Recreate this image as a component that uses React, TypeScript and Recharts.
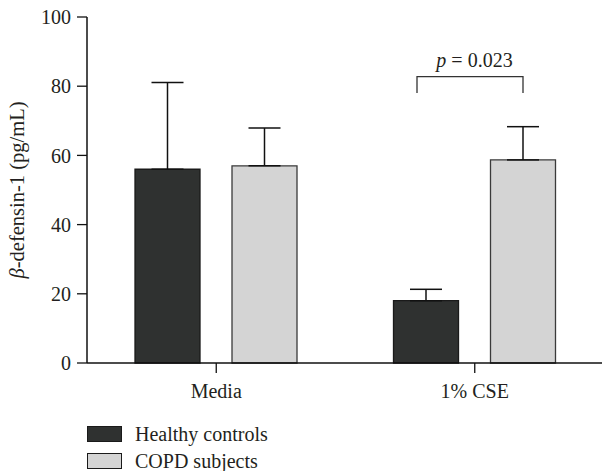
import React from 'react';
import { Bar, BarChart, ErrorBar, LabelList, XAxis, YAxis } from 'recharts';

const categories = ['Media', '1% CSE'];
const healthy = [56.0, 18.0];
const copd = [57.0, 58.7];
const healthyErr = [25.1, 3.3];
const copdErr = [10.9, 9.6];
const yTicks = [0, 20, 40, 60, 80, 100];
const seriesNames = ['Healthy controls', 'COPD subjects'];
const pValue = '0.023';
// bracket over the 1% CSE pair, in y units
const bracketTop = 82.75;
const bracketLeg = 78;

const data = categories.map((name, i) => ({
  name,
  healthy: healthy[i],
  copd: copd[i],
  healthyErr: [0, healthyErr[i]],
  copdErr: [0, copdErr[i]],
}));

const FONT = '"Liberation Serif", "Times New Roman", serif';
const INK = '#231f20';
const DARK = '#2f3130';
const LIGHT = '#d4d4d4';

function YLabel(props: any) {
  const vb = props.viewBox || {};
  const cx = (vb.x ?? 0) + 24;
  const cy = (vb.y ?? 0) + (vb.height ?? 0) / 2;
  return (
    <text
      x={cx}
      y={cy}
      transform={`rotate(-90, ${cx}, ${cy})`}
      textAnchor="middle"
      fontFamily={FONT}
      fontSize={20.5}
      fill={INK}
    >
      <tspan fontStyle="italic">β</tspan>-defensin-1 (pg/mL)
    </text>
  );
}

function PBracket(props: any) {
  if (props.index !== 1) return null;
  const vb = props.viewBox && props.viewBox.width != null ? props.viewBox : props;
  const { x, y, width, height } = vb;
  const value = copd[1];
  const base = y + height;
  const ppu = height / value;
  const top = base - bracketTop * ppu;
  const leg = base - bracketLeg * ppu;
  const right = x + width / 2;
  const left = right - 106;
  const mid = x - 16;
  return (
    <g>
      <path
        d={`M${left},${leg} L${left},${top} L${right},${top} L${right},${leg}`}
        fill="none"
        stroke="#333"
        strokeWidth={1.3}
      />
      <text x={mid} y={top - 10} textAnchor="middle" fontFamily={FONT} fontSize={20} fill={INK}>
        <tspan fontStyle="italic">p</tspan> = {pValue}
      </text>
    </g>
  );
}

export default function App() {
  return (
    <div
      style={{
        position: 'absolute',
        left: 0,
        top: 0,
        width: 602,
        height: 471,
        overflow: 'hidden',
        background: '#fff',
      }}
    >
      <BarChart
        width={620}
        height={471}
        data={data}
        margin={{ top: 17, right: 16, left: 0, bottom: 68 }}
        barGap={32}
        barSize={65}
      >
        <XAxis
          dataKey="name"
          height={40}
          tickSize={10}
          tickMargin={11}
          axisLine={{ stroke: '#111', strokeWidth: 1.5 }}
          tickLine={{ stroke: '#111', strokeWidth: 1.3 }}
          tick={{ fontFamily: FONT, fontSize: 20, fill: INK }}
        />
        <YAxis
          width={87}
          domain={[0, 100]}
          ticks={yTicks}
          tickSize={10}
          tickMargin={6}
          axisLine={{ stroke: '#111', strokeWidth: 1.5 }}
          tickLine={{ stroke: '#111', strokeWidth: 1.3 }}
          tick={{ fontFamily: FONT, fontSize: 20, fill: INK }}
          label={{ content: YLabel }}
        />
        <Bar dataKey="healthy" fill={DARK} stroke="#1a1a1a" strokeWidth={1.3} isAnimationActive={false}>
          <ErrorBar dataKey="healthyErr" width={16} stroke="#111" strokeWidth={1.5} direction="y" />
        </Bar>
        <Bar dataKey="copd" fill={LIGHT} stroke="#3a3a3a" strokeWidth={1.3} isAnimationActive={false}>
          <ErrorBar dataKey="copdErr" width={16} stroke="#111" strokeWidth={1.5} direction="y" />
          <LabelList dataKey="copd" content={PBracket} />
        </Bar>
      </BarChart>
      <div
        style={{
          position: 'absolute',
          left: 87,
          top: 421,
          fontFamily: FONT,
          fontSize: 20,
          color: INK,
          lineHeight: '26px',
        }}
      >
        {seriesNames.map((name, i) => (
          <div key={name} style={{ display: 'flex', alignItems: 'center', height: 26.5 }}>
            <span
              style={{
                display: 'inline-block',
                boxSizing: 'border-box',
                width: 35,
                height: 16,
                background: i === 0 ? DARK : LIGHT,
                border: '1.3px solid #1a1a1a',
                marginRight: 13,
              }}
            />
            {name}
          </div>
        ))}
      </div>
    </div>
  );
}
